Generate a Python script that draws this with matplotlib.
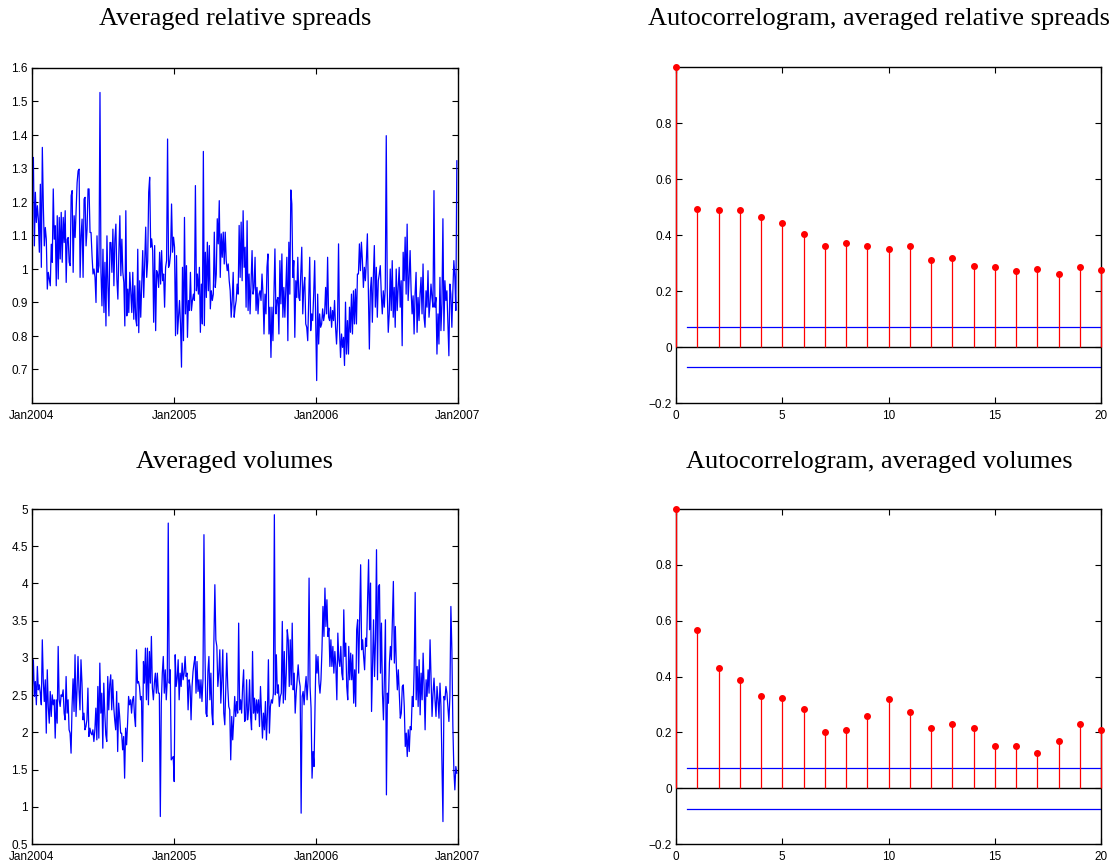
import numpy as np
import pandas as pd
import matplotlib
matplotlib.use("Agg")
import matplotlib.pyplot as plt
from matplotlib.ticker import FuncFormatter

# ---------------- data ----------------
spreads = [
    1.298, 1.333, 1.069, 1.229, 1.139, 1.189, 1.149, 1.05, 1.253, 1.005, 1.363, 1.189, 1.069, 1.124,
    1.089, 0.94, 0.99, 0.97, 0.95, 1.074, 1.02, 1.239, 1.089, 1.129, 0.95, 1.159, 0.97, 1.154, 1.03,
    1.169, 1.02, 1.154, 1.079, 1.174, 0.96, 1.089, 1.094, 1.02, 1.01, 1.219, 1.234, 0.99, 1.159, 1.094,
    1.174, 1.258, 1.293, 1.298, 0.975, 1.099, 1.149, 0.975, 1.209,
    1.214, 1.069, 1.119, 1.239, 1.239, 1.109, 1.109, 1.04, 0.985, 1.0, 0.975, 0.9, 1.099, 0.99, 1.01,
    1.527, 0.99, 0.89, 1.059, 0.87, 1.02, 0.83, 1.099, 0.95, 0.86, 1.079, 1.079, 0.99, 1.119, 0.95,
    1.089, 1.134, 0.97, 0.91, 1.05, 1.159, 0.98, 1.089, 0.99, 0.96, 0.83, 1.174, 0.86, 0.94, 0.87,
    0.99, 0.93, 0.87, 0.99, 0.85, 0.95, 0.85, 0.83, 1.059, 0.81,
    0.965, 0.856, 0.955, 1.055, 0.915, 1.025, 1.125, 0.975, 1.025, 1.229, 1.274, 1.065, 1.09, 1.055,
    0.841, 1.07, 0.816, 0.995, 0.985, 0.945, 1.05, 0.955, 1.055, 0.965, 0.985, 0.886, 1.005, 1.025,
    1.388, 1.005, 1.015, 1.045, 1.194, 1.05, 1.095, 1.065, 0.801, 1.04, 0.806, 0.856, 0.906, 0.836,
    0.707, 1.005, 0.786, 1.154, 0.866, 1.01, 0.796, 0.906, 0.876, 0.99, 0.876, 0.906, 0.925, 0.906,
    1.249, 0.935, 0.985, 0.925, 1.005, 0.811, 0.955, 0.836, 1.351, 0.831, 1.05, 0.915, 1.08, 0.935,
    1.07, 0.881, 0.935, 0.906, 0.925, 1.11, 0.945, 0.985, 1.15, 1.075, 1.204, 0.975, 1.105, 1.035,
    1.11, 1.015, 1.11, 1.025, 0.995, 1.015, 0.965, 0.935, 0.856, 0.906, 0.99, 0.856, 0.886, 0.906,
    0.955, 0.925, 1.13, 0.975, 1.14, 0.965, 1.174, 1.005,
    1.065, 0.886, 1.144, 0.876, 0.985, 0.866, 0.965, 1.055, 0.925, 0.945, 1.035, 0.876, 0.945, 0.866,
    0.925, 0.935, 0.906, 0.985, 0.925, 0.806, 0.925, 0.866, 1.005, 1.045, 0.806, 0.886, 0.736, 0.886,
    0.786, 0.925, 1.06, 0.866, 0.906, 0.915, 0.806, 1.025, 0.896, 1.045, 0.856, 0.945, 0.856, 0.945,
    1.035, 0.786, 1.08, 0.925, 1.236, 1.194, 0.975, 1.025, 0.796, 0.965, 0.915, 1.035, 0.915, 0.906,
    0.985, 1.065, 0.866, 0.945, 0.975, 0.836, 0.826, 0.786, 0.906, 1.035, 0.816, 0.866, 0.846, 0.925,
    1.025, 0.846, 0.667, 0.925, 0.776, 0.866, 0.826, 0.836, 0.881, 0.846, 0.866, 0.945, 0.866, 1.035,
    0.856, 0.846, 0.886, 0.826, 0.876, 0.846, 0.906, 0.826, 0.776, 0.846, 1.075, 0.816, 0.736, 0.806,
    0.766, 0.796, 0.712, 0.901, 0.746, 0.846, 0.746, 0.886,
    0.811, 0.925, 0.806, 0.935, 0.836, 0.94, 0.836, 0.985, 0.985, 1.075, 0.995, 1.08, 1.025, 0.945,
    1.005, 0.965, 1.025, 1.105, 0.925, 0.761, 0.935, 0.975, 0.841, 0.975, 1.07, 0.886, 1.005, 0.856,
    0.965, 0.985, 1.01, 0.925, 0.866, 0.935, 0.886, 0.945, 1.398, 0.935, 0.811, 0.866, 1.0, 0.876,
    1.025, 0.856, 0.945, 0.826, 1.0, 0.876, 0.945, 1.005, 0.886, 0.965, 0.771, 1.05, 0.965, 1.095,
    0.925, 1.134, 0.906, 0.975, 1.055, 0.935, 0.866, 0.92, 0.806, 0.925, 0.99, 0.811, 0.915, 0.846,
    0.925, 0.975, 0.866, 1.015, 0.856, 0.826, 0.935, 0.886, 0.995, 0.856, 0.896, 0.955, 0.915, 0.886,
    1.234, 0.886, 0.915, 0.746, 0.866, 0.776, 0.975, 0.816, 0.896, 1.15, 0.816, 0.965, 0.906, 0.935,
    0.836, 0.741, 0.955, 0.925, 0.826, 0.935, 1.025, 0.975, 0.876, 1.323,
]

volumes = [
    2.616, 2.975, 2.482, 2.683, 2.37, 2.885, 2.571, 2.638, 2.526, 2.37, 3.243, 2.683, 2.414, 2.706,
    1.989, 2.84, 2.347, 2.123, 2.549, 2.213, 2.504, 2.37, 2.437, 1.922, 2.437, 2.123, 3.154, 2.437,
    2.347, 2.504, 2.482, 2.571, 2.258, 2.168, 2.75, 2.258, 2.437, 2.034, 1.989, 1.72, 2.347, 2.719,
    2.28, 3.042, 2.213, 2.571, 3.019, 2.571, 2.302, 2.975, 2.661, 2.168, 2.258, 2.034, 2.078, 2.168,
    2.594, 1.944, 2.056, 1.989, 1.967, 2.034, 1.877, 2.034, 2.325, 1.899, 2.616, 1.922, 2.93, 2.258,
    2.526, 1.787, 2.661, 2.258, 1.967, 1.877, 2.75, 2.302, 2.638, 2.773, 2.302, 2.706, 2.347, 2.168,
    2.034, 2.549, 1.742, 2.392, 2.213, 1.989, 1.989, 1.765, 1.944, 1.384, 2.056, 1.832, 2.123, 2.482,
    2.37, 2.437, 2.258, 2.437, 2.482, 2.213, 2.078, 3.109, 2.661, 2.683,
    2.616, 2.437, 2.482, 1.608, 2.952, 2.661, 3.131, 2.437, 3.131, 2.37, 3.086, 2.661, 3.288, 2.594,
    2.437, 2.661, 2.795, 2.526, 2.795, 2.526, 2.526, 0.869, 2.392, 2.795, 3.019, 2.526, 2.84, 2.437,
    2.706, 4.811, 2.661, 2.84, 1.63, 1.653, 1.675, 1.339, 3.042, 2.616, 2.728, 2.975, 2.437, 2.795,
    2.616, 2.93, 2.706, 2.795, 3.019, 2.75, 2.795, 2.302, 2.706, 2.616, 2.168, 2.616, 2.818, 2.93,
    3.019, 2.526, 2.952, 2.549, 2.706, 2.459, 2.706, 2.414, 2.706, 4.655, 3.086, 2.258, 2.213, 2.818,
    3.019, 2.437, 2.795, 2.258, 2.101, 3.199, 3.983, 3.243, 3.154, 2.616, 2.795, 3.109, 2.392, 2.706,
    3.109, 2.258, 2.101, 2.571, 3.064, 2.616, 2.347, 2.302, 1.63, 2.213, 1.899, 2.168, 2.482, 2.213,
    2.414, 2.258, 3.467, 2.302, 2.437, 2.258, 2.616, 2.84, 2.146,
    2.168, 2.706, 2.168, 2.302, 2.706, 2.213, 2.034, 3.086, 2.258, 2.459, 2.168, 2.437, 2.258, 2.437,
    2.078, 2.616, 2.258, 1.922, 2.258, 2.034, 2.414, 1.899, 2.258, 2.975, 1.989, 2.347, 2.437, 2.392,
    2.526, 4.923, 2.504, 3.042, 2.526, 2.638, 2.347, 2.482, 2.526, 3.49, 2.392, 3.086, 2.437, 2.795,
    3.378, 3.243, 2.616, 3.243, 2.638, 3.467, 2.571, 2.795, 2.258, 2.526, 2.706, 2.907, 2.706, 2.616,
    0.914, 2.482, 2.549, 2.37, 2.594, 2.75, 2.437, 2.706, 4.072, 2.616, 2.325, 1.384, 1.742, 1.541,
    2.347, 3.042, 2.795, 3.019, 2.661, 2.526, 2.706, 3.109, 3.691, 3.288, 3.938, 3.422, 3.781, 3.288,
    3.4, 2.885, 3.243, 2.885, 3.154, 2.795, 3.086, 2.885, 2.437, 3.333, 2.975, 2.885, 3.154, 2.795,
    2.706, 3.646, 3.019, 3.199, 2.616, 2.437, 3.154,
    2.706, 3.064, 2.706, 3.042, 2.392, 2.84, 2.347, 3.378, 3.512, 2.795, 3.512, 4.251, 3.109, 3.243,
    3.019, 2.84, 3.266, 3.154, 3.781, 4.319, 3.378, 4.005, 2.28, 2.93, 3.512, 2.75, 3.243, 4.453,
    2.706, 3.96, 3.983, 2.795, 3.467, 2.526, 2.168, 2.773, 3.512, 1.16, 2.526, 2.392, 2.93, 3.154,
    2.975, 3.512, 4.027, 2.93, 3.422, 2.885, 2.571, 2.84, 2.526, 2.19, 2.258, 2.616, 2.638, 2.347,
    1.81, 1.989, 1.675, 2.034, 1.742, 2.078, 2.034, 2.482, 2.347, 2.885, 3.879, 2.437, 2.885, 2.347,
    2.975, 2.235, 2.795, 2.437, 3.064, 2.616, 2.034, 2.706, 2.482, 2.84, 2.526, 3.243, 2.75, 2.213,
    2.526, 2.728, 2.437, 2.213, 2.616, 2.437, 2.19, 2.661, 2.347, 1.541, 0.801, 2.482, 2.437, 2.616,
    2.526, 2.325, 2.146, 2.482, 3.691, 3.109, 2.078, 1.496, 1.227, 1.541, 1.451,
]

lags = list(range(21))
acf_spreads = [1.0, 0.492, 0.491, 0.490, 0.464, 0.443, 0.405, 0.362, 0.371, 0.362, 0.350,
               0.360, 0.310, 0.317, 0.288, 0.286, 0.271, 0.277, 0.261, 0.286, 0.275]
acf_volumes = [1.0, 0.568, 0.431, 0.389, 0.330, 0.323, 0.285, 0.200, 0.208, 0.257, 0.319,
               0.274, 0.215, 0.231, 0.214, 0.151, 0.152, 0.127, 0.170, 0.230, 0.208]
conf_band = 0.073

titles = ["Averaged relative spreads", "Autocorrelogram, averaged relative spreads",
          "Averaged volumes", "Autocorrelogram, averaged volumes"]
year_ticks = ["2004-01-01", "2005-01-01", "2006-01-01", "2007-01-01"]
year_labels = ["Jan2004", "Jan2005", "Jan2006", "Jan2007"]
spread_yticks = [0.7, 0.8, 0.9, 1.0, 1.1, 1.2, 1.3, 1.4, 1.5, 1.6]
volume_yticks = [0.5, 1, 1.5, 2, 2.5, 3, 3.5, 4, 4.5, 5]
acf_yticks = [-0.2, 0, 0.2, 0.4, 0.6, 0.8]
acf_xticks = [0, 5, 10, 15, 20]

# ---------------- figure ----------------
W, H = 1116, 863
fig = plt.figure(figsize=(W / 100, H / 100), dpi=100)

def rect(l, t, r, b):
    return [l / W, 1 - b / H, (r - l) / W, (b - t) / H]

ax_s = fig.add_axes(rect(32, 68, 458, 403))
ax_as = fig.add_axes(rect(676, 67, 1101, 403))
ax_v = fig.add_axes(rect(32, 509, 458, 844))
ax_av = fig.add_axes(rect(676, 509, 1101, 844))

SANS = ["Liberation Sans", "DejaVu Sans"]
SERIF = ["Liberation Serif", "DejaVu Serif"]

fmt = FuncFormatter(lambda v, p: ("%g" % round(v, 2)).replace("-", "\u2212"))

def style(ax):
    ax.tick_params(direction="in", length=4, width=0.8, top=True, right=True,
                   labelsize=8.5)
    ax.tick_params(axis="x", pad=5)
    ax.tick_params(axis="y", pad=3)
    for lab in ax.get_xticklabels() + ax.get_yticklabels():
        lab.set_fontfamily(SANS)
    for s in ax.spines.values():
        s.set_linewidth(1.0)

def add_title(x_px, y_px, text):
    fig.text(x_px / W, 1 - y_px / H, text, ha="center", va="center",
             family=SERIF, size=19)

start = pd.Timestamp("2004-01-02")
end = pd.Timestamp("2006-12-29")
ticks_dt = [pd.Timestamp(t) for t in year_ticks]

def ts_plot(ax, vals, ylim, yticks):
    dates = pd.date_range(start, end, periods=len(vals))
    ax.plot(dates, vals, color=(0, 0, 1), lw=0.9)
    ax.set_xlim(ticks_dt[0], ticks_dt[-1])
    ax.set_ylim(*ylim)
    ax.set_xticks(ticks_dt)
    ax.set_xticklabels(year_labels)
    ax.set_yticks(yticks)
    ax.yaxis.set_major_formatter(fmt)
    style(ax)

def acf_plot(ax, vals):
    ax.plot([0, 20], [0, 0], color="k", lw=1.0, zorder=2)
    ax.vlines(lags, 0, vals, colors=(1, 0, 0), lw=0.9, zorder=3, clip_on=False)
    ax.plot(lags, vals, "o", color=(1, 0, 0), ms=4, zorder=4, clip_on=False)
    ax.plot([0.5, 20], [conf_band, conf_band], color=(0, 0, 1), lw=0.9, zorder=1)
    ax.plot([0.5, 20], [-conf_band, -conf_band], color=(0, 0, 1), lw=0.9, zorder=1)
    ax.set_xlim(0, 20)
    ax.set_ylim(-0.2, 1.0)
    ax.set_xticks(acf_xticks)
    ax.set_yticks(acf_yticks)
    ax.yaxis.set_major_formatter(fmt)
    style(ax)

ts_plot(ax_s, spreads, (0.6, 1.6), spread_yticks)
acf_plot(ax_as, acf_spreads)
ts_plot(ax_v, volumes, (0.5, 5.0), volume_yticks)
acf_plot(ax_av, acf_volumes)

add_title(235, 19, titles[0])
add_title(879, 19, titles[1])
add_title(235, 462, titles[2])
add_title(879, 462, titles[3])

fig.savefig("out.png", dpi=100)
